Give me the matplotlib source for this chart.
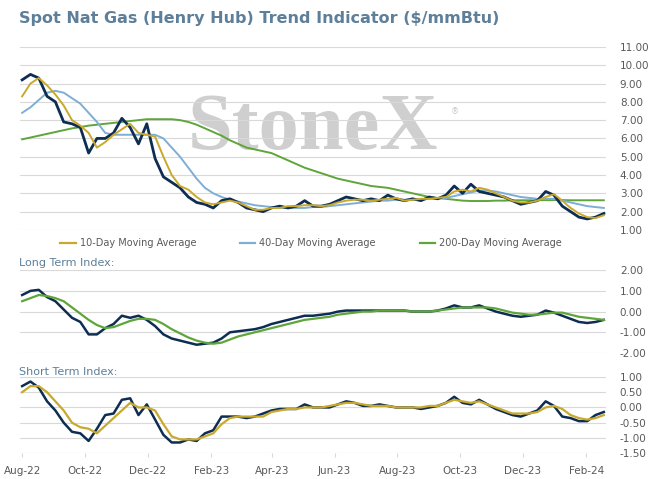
import matplotlib.pyplot as plt
import matplotlib.dates as mdates
import pandas as pd

price = [9.2, 9.5, 9.3, 8.3, 8.0, 6.9, 6.8, 6.6, 5.2, 6.0, 6.0, 6.3, 7.1, 6.6, 5.7, 6.8, 4.9, 3.9, 3.6, 3.3,
         2.8, 2.5, 2.4, 2.2, 2.6, 2.7, 2.5, 2.2, 2.1, 2.0, 2.2, 2.3, 2.2, 2.3, 2.6, 2.3, 2.3, 2.4, 2.6, 2.8,
         2.7, 2.6, 2.7, 2.6, 2.9, 2.7, 2.6, 2.7, 2.6, 2.8, 2.7, 2.9, 3.4, 3.0, 3.5, 3.1, 3.0, 2.9, 2.8, 2.6,
         2.4, 2.5, 2.6, 3.1, 2.9, 2.3, 2.0, 1.7, 1.6, 1.7, 1.9]
ma10 = [8.3, 9.0, 9.3, 8.9, 8.4, 7.8, 7.0, 6.7, 6.3, 5.5, 5.8, 6.2, 6.5, 6.8, 6.3, 6.2, 6.1, 5.0, 4.0, 3.4,
        3.2, 2.8, 2.5, 2.4, 2.5, 2.6, 2.5, 2.3, 2.1, 2.1, 2.2, 2.2, 2.3, 2.3, 2.35, 2.35, 2.3, 2.35, 2.5, 2.6,
        2.65, 2.65, 2.6, 2.65, 2.7, 2.75, 2.6, 2.65, 2.7, 2.7, 2.75, 2.8, 3.1, 3.2, 3.1, 3.3, 3.2, 3.0, 2.8, 2.6,
        2.5, 2.5, 2.6, 2.8, 2.95, 2.6, 2.2, 1.9, 1.7, 1.65, 1.8]
ma40 = [7.4, 7.7, 8.1, 8.5, 8.6, 8.5, 8.2, 7.9, 7.4, 6.9, 6.3, 6.2, 6.2, 6.2, 6.2, 6.2, 6.2, 6.0, 5.5, 5.0,
        4.4, 3.8, 3.3, 3.0, 2.8, 2.65, 2.55, 2.45, 2.35, 2.3, 2.25, 2.2, 2.2, 2.2, 2.2, 2.25, 2.25, 2.3, 2.35, 2.4,
        2.45, 2.5, 2.55, 2.6, 2.6, 2.65, 2.65, 2.65, 2.65, 2.7, 2.7, 2.75, 2.85, 2.95, 3.05, 3.15, 3.15, 3.1, 3.0, 2.9,
        2.8, 2.75, 2.7, 2.7, 2.7, 2.6, 2.5, 2.4, 2.3, 2.25, 2.2]
ma200 = [5.95, 6.05, 6.15, 6.25, 6.35, 6.45, 6.55, 6.62, 6.7, 6.75, 6.8, 6.85, 6.9, 6.95, 7.0, 7.05, 7.05, 7.05, 7.05, 7.0,
         6.9, 6.75, 6.55, 6.35, 6.15, 5.9, 5.7, 5.5, 5.4, 5.3, 5.2, 5.0, 4.8, 4.6, 4.4, 4.25, 4.1, 3.95, 3.8, 3.7,
         3.6, 3.5, 3.4, 3.35, 3.3, 3.2, 3.1, 3.0, 2.9, 2.8, 2.75, 2.7, 2.65, 2.6, 2.58, 2.58, 2.58, 2.6, 2.6, 2.62,
         2.62, 2.62, 2.62, 2.63, 2.63, 2.63, 2.62, 2.62, 2.62, 2.62, 2.62]
lt_index = [0.8, 1.0, 1.05, 0.7, 0.5, 0.1, -0.3, -0.5, -1.1, -1.1, -0.8, -0.6, -0.2, -0.3, -0.2, -0.4, -0.7, -1.1, -1.3, -1.4,
            -1.5, -1.6, -1.55, -1.5, -1.3, -1.0, -0.95, -0.9, -0.85, -0.75, -0.6, -0.5, -0.4, -0.3, -0.2, -0.2, -0.15, -0.1, 0.0, 0.05,
            0.05, 0.05, 0.05, 0.05, 0.05, 0.05, 0.05, 0.0, 0.0, 0.0, 0.05, 0.15, 0.3, 0.2, 0.2, 0.3, 0.15, 0.0, -0.1, -0.2,
            -0.25, -0.2, -0.15, 0.05, -0.05, -0.2, -0.35, -0.5, -0.55, -0.5, -0.4]
lt_signal = [0.5, 0.65, 0.8, 0.75, 0.65, 0.5, 0.2, -0.1, -0.4, -0.65, -0.8, -0.75, -0.6, -0.45, -0.35, -0.35, -0.4, -0.6, -0.85, -1.05,
             -1.25, -1.4, -1.5, -1.55, -1.5, -1.35, -1.2, -1.1, -1.0, -0.9, -0.8, -0.7, -0.6, -0.5, -0.4, -0.35, -0.3, -0.25, -0.15, -0.1,
             -0.05, 0.0, 0.0, 0.05, 0.05, 0.05, 0.05, 0.0, 0.0, 0.0, 0.05, 0.1, 0.15, 0.2, 0.2, 0.2, 0.2, 0.15, 0.05, -0.05,
             -0.1, -0.15, -0.15, -0.1, -0.05, -0.05, -0.15, -0.25, -0.3, -0.35, -0.4]
st_index = [0.7, 0.85, 0.65, 0.2, -0.1, -0.5, -0.8, -0.85, -1.1, -0.7, -0.25, -0.2, 0.25, 0.3, -0.25, 0.1, -0.4, -0.9, -1.15, -1.15,
            -1.05, -1.1, -0.85, -0.75, -0.3, -0.3, -0.3, -0.35, -0.3, -0.2, -0.1, -0.05, -0.05, -0.05, 0.1, 0.0, 0.0, 0.0, 0.1, 0.2,
            0.15, 0.05, 0.05, 0.1, 0.05, 0.0, 0.0, 0.0, -0.05, 0.0, 0.05, 0.15, 0.35, 0.15, 0.1, 0.25, 0.1, -0.05, -0.15, -0.25,
            -0.3, -0.2, -0.1, 0.2, 0.05, -0.3, -0.35, -0.45, -0.45, -0.25, -0.15]
st_signal = [0.5, 0.7, 0.7, 0.5, 0.2, -0.1, -0.5, -0.65, -0.7, -0.85, -0.6, -0.35, -0.1, 0.15, 0.0, 0.0, -0.1, -0.55, -0.95, -1.05,
             -1.05, -1.05, -0.95, -0.85, -0.55, -0.35, -0.3, -0.3, -0.3, -0.3, -0.15, -0.1, -0.05, -0.05, 0.0, 0.0, 0.0, 0.05, 0.1, 0.15,
             0.15, 0.1, 0.05, 0.05, 0.05, 0.0, 0.0, 0.0, 0.0, 0.05, 0.05, 0.15, 0.25, 0.2, 0.15, 0.2, 0.1, 0.0, -0.1, -0.2,
             -0.2, -0.2, -0.15, 0.0, 0.05, -0.05, -0.25, -0.35, -0.4, -0.35, -0.25]

dates = pd.date_range('2022-08-01', '2024-02-18', periods=len(price))

navy = '#0e2d52'
gold = '#c9a92c'
blue = '#7eaed6'
green = '#5ea53a'
grid = '#d9d9d9'
txt = '#595959'
slate = '#5d7f99'

fig = plt.figure(figsize=(6.48, 4.79), dpi=100)
ax1 = fig.add_axes([0.031, 0.52, 0.904, 0.382])
ax2 = fig.add_axes([0.031, 0.263, 0.904, 0.173])
ax3 = fig.add_axes([0.031, 0.054, 0.904, 0.159])

for ax in (ax1, ax2, ax3):
    ax.set_xlim(pd.Timestamp('2022-07-30'), pd.Timestamp('2024-02-20'))
    for s in ax.spines.values():
        s.set_visible(False)
    ax.yaxis.tick_right()
    ax.tick_params(axis='y', length=0, labelsize=7.5, labelcolor=txt, pad=10)
    ax.grid(axis='y', color=grid, lw=0.8)
    ax.set_axisbelow(True)
    ax.yaxis.set_major_formatter(plt.FuncFormatter(lambda v, p: '%.2f' % v))
    ax.xaxis.set_major_locator(mdates.MonthLocator(bymonth=[2, 4, 6, 8, 10, 12]))
    ax.xaxis.set_major_formatter(mdates.DateFormatter('%b-%y'))

ax1.plot(dates, ma200, color=green, lw=1.4)
ax1.plot(dates, ma40, color=blue, lw=1.4)
ax1.plot(dates, price, color=navy, lw=2.0)
ax1.plot(dates, ma10, color=gold, lw=1.4)
ax1.set_ylim(1, 11)
ax1.set_yticks(range(1, 12))
ax1.tick_params(axis='x', bottom=False, labelbottom=False)
# watermark
ax1.text(0.5, 0.55, 'StoneX', transform=ax1.transAxes, ha='center', va='center',
         fontsize=58, family='Liberation Serif', color='#cfcfcf', weight='bold', zorder=0)
ax1.text(0.735, 0.635, '®', transform=ax1.transAxes, fontsize=6, color='#c8c8c8')

fig.text(0.03, 0.962, 'Spot Nat Gas (Henry Hub) Trend Indicator ($/mmBtu)', fontsize=11.5,
         color=slate, weight='semibold', va='center')

h1, = ax1.plot([], [], color=gold, lw=1.6)
h2, = ax1.plot([], [], color=blue, lw=1.6)
h3, = ax1.plot([], [], color=green, lw=1.6)
fig.legend([h1, h2, h3], ['10-Day Moving Average', '40-Day Moving Average', '200-Day Moving Average'],
           loc='center', bbox_to_anchor=(0.48, 0.492), ncol=3, frameon=False, fontsize=7,
           labelcolor=txt, handlelength=1.6, columnspacing=4.5, handletextpad=0.4)

ax2.plot(dates, lt_index, color=navy, lw=1.8)
ax2.plot(dates, lt_signal, color=green, lw=1.6)
ax2.set_ylim(-2, 2)
ax2.set_yticks([-2, -1, 0, 1, 2])
ax2.tick_params(axis='x', bottom=False, labelbottom=False)
fig.text(0.03, 0.45, 'Long Term Index:', fontsize=8, color=slate, va='center')

ax3.plot(dates, st_index, color=navy, lw=1.8)
ax3.plot(dates, st_signal, color=gold, lw=1.6)
ax3.set_ylim(-1.5, 1)
ax3.set_yticks([-1.5, -1, -0.5, 0, 0.5, 1])
ax3.tick_params(axis='x', labelsize=7.5, labelcolor=txt, length=3, color=grid, pad=6)
fig.text(0.03, 0.224, 'Short Term Index:', fontsize=8, color=slate, va='center')

fig.savefig('out.png', dpi=100)
